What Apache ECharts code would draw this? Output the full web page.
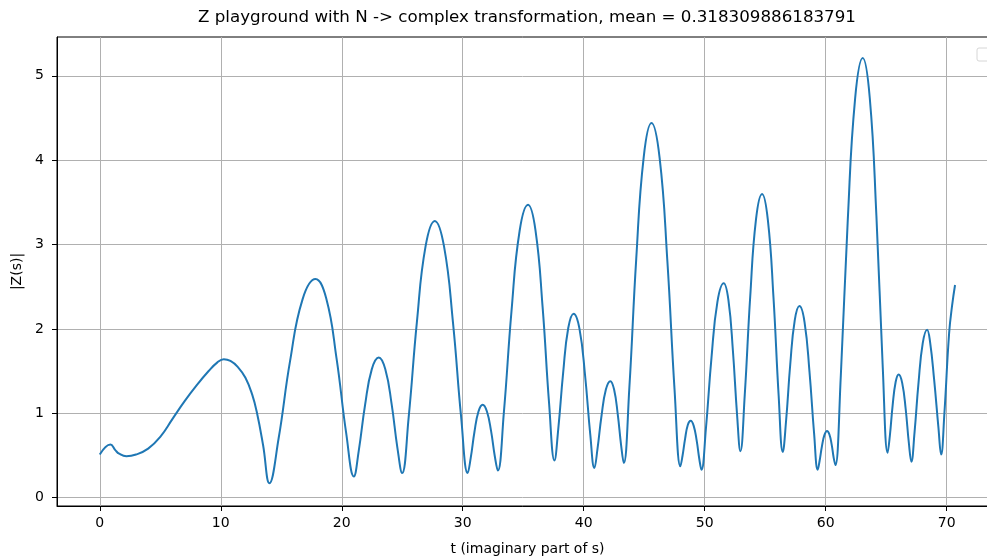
<!DOCTYPE html>
<html>
<head>
<meta charset="utf-8">
<script src="https://cdn.jsdelivr.net/npm/echarts@6/dist/echarts.min.js"></script>
<style>html,body{margin:0;padding:0;background:#fff}#c{width:987px;height:558px}</style>
</head>
<body>
<div id="c"></div>
<script>
const titleText = 'Z playground with N -> complex transformation, mean = 0.318309886183791';
const xLabel = 't (imaginary part of s)';
const yLabel = '|Z(s)|';
const xTicks = [0, 10, 20, 30, 40, 50, 60, 70];
const yTicks = [0, 1, 2, 3, 4, 5];
const tValues = [0, 0.88, 1.3, 1.6, 2.2, 3.0, 4.0, 5.0, 6.0, 7.0, 8.0, 9.0, 9.7, 10.25, 10.8, 11.4, 12.04, 12.6, 13.0, 13.5, 14.02,
14.78, 15.73, 16.76, 17.83, 18.72, 19.57, 20.37, 21.0,
21.41, 21.93, 22.48, 23.06, 23.60, 24.12, 24.60, 24.99,
25.53, 26.21, 26.93, 27.69, 28.45, 29.19, 29.87, 30.41,
30.66, 30.97, 31.30, 31.65, 32.0, 32.34, 32.65, 32.9,
33.4, 34.03, 34.7, 35.4, 36.01, 36.60, 37.14, 37.58,
37.90, 38.30, 38.72, 39.17, 39.65, 40.11, 40.54, 40.88,
41.14, 41.47, 41.83, 42.2, 42.51, 42.81, 43.09, 43.31,
43.77, 44.34, 44.96, 45.6, 46.27, 46.91, 47.51, 47.99,
48.16, 48.37, 48.60, 48.84, 49.09, 49.33, 49.55, 49.73,
50.10, 50.56, 51.05, 51.57, 51.96, 52.33, 52.67, 52.95,
53.31, 53.76, 54.24, 54.74, 55.22, 55.68, 56.11, 56.45,
56.73, 57.07, 57.44, 57.83, 58.25, 58.66, 59.04, 59.34,
59.49, 59.69, 59.89, 60.11, 60.30, 60.49, 60.66, 60.8,
61.25, 61.82, 62.43, 63.06, 63.64, 64.19, 64.71, 65.12,
65.30, 65.53, 65.78, 66.03, 66.32, 66.61, 66.87, 67.08,
67.34, 67.67, 68.02, 68.38, 68.63, 68.96, 69.31, 69.54,
69.81, 70.2, 70.45, 70.69];
const zValues = [0.51, 0.63, 0.56, 0.52, 0.49, 0.51, 0.58, 0.72, 0.93, 1.14, 1.33, 1.5, 1.6, 1.64, 1.62, 1.55, 1.42, 1.22, 1.0, 0.62, 0.17,
0.70, 1.62, 2.35, 2.59, 2.36, 1.65, 0.76, 0.25,
0.56, 1.10, 1.52, 1.66, 1.52, 1.11, 0.59, 0.29,
0.95, 2.08, 2.98, 3.28, 2.98, 2.08, 0.95, 0.29,
0.47, 0.78, 1.02, 1.10, 1.02, 0.79, 0.49, 0.32,
1.01, 2.21, 3.16, 3.47, 3.17, 2.26, 1.11, 0.44,
0.82, 1.48, 2.01, 2.18, 2.0, 1.45, 0.75, 0.35,
0.58, 0.97, 1.28, 1.38, 1.28, 0.99, 0.62, 0.41,
1.30, 2.83, 4.04, 4.44, 4.03, 2.81, 1.27, 0.37,
0.49, 0.69, 0.86, 0.91, 0.85, 0.68, 0.46, 0.33,
0.82, 1.66, 2.32, 2.54, 2.34, 1.74, 0.99, 0.55,
1.22, 2.38, 3.30, 3.60, 3.29, 2.38, 1.21, 0.54,
0.92, 1.58, 2.10, 2.27, 2.08, 1.49, 0.76, 0.33,
0.43, 0.61, 0.74, 0.79, 0.75, 0.63, 0.47, 0.385,
1.45, 3.28, 4.73, 5.21, 4.74, 3.34, 1.56, 0.53,
0.73, 1.09, 1.37, 1.46, 1.36, 1.05, 0.65, 0.425,
0.77, 1.36, 1.83, 1.99, 1.84, 1.40, 0.84, 0.51,
1.0, 1.95, 2.28, 2.52];

const FONT = 'DejaVu Sans';
const chart = echarts.init(document.getElementById('c'), null, {renderer: 'canvas'});
const pts = tValues.map((t, i) => [t, zValues[i]]);

chart.setOption({
  animation: false,
  backgroundColor: '#ffffff',
  grid: {left: 57, top: 37, right: -11, bottom: 52, containLabel: false, outerBoundsMode: 'none',
         show: true, borderColor: '#000', borderWidth: 1, backgroundColor: 'transparent'},
  xAxis: {
    type: 'value', min: -3.535, max: 74.24,
    name: xLabel, nameLocation: 'middle', nameGap: 36,
    nameTextStyle: {fontFamily: FONT, fontSize: 14, color: '#000'},
    axisLine: {show: true, onZero: false, lineStyle: {color: '#000', width: 1}},
    axisTick: {show: true, length: 5, customValues: xTicks, lineStyle: {color: '#000', width: 1}},
    axisLabel: {margin: 10, fontFamily: FONT, fontSize: 14, color: '#000', customValues: xTicks, formatter: (v) => String(v)},
    splitLine: {show: true, lineStyle: {color: '#b0b0b0', width: 1}}
  },
  yAxis: {
    type: 'value', min: -0.1, max: 5.46,
    name: yLabel, nameLocation: 'middle', nameGap: 33, nameRotate: 90,
    nameTextStyle: {fontFamily: FONT, fontSize: 14, color: '#000'},
    axisLine: {show: true, onZero: false, lineStyle: {color: '#000', width: 1}},
    axisTick: {show: true, length: 5, customValues: yTicks, lineStyle: {color: '#000', width: 1}},
    axisLabel: {margin: 13, fontFamily: FONT, fontSize: 14, color: '#000', customValues: yTicks, formatter: (v) => String(v)},
    splitLine: {show: true, lineStyle: {color: '#b0b0b0', width: 1}}
  },
  series: [{
    type: 'line', data: pts, showSymbol: false, smooth: 0.45,
    lineStyle: {color: '#1f77b4', width: 2}, itemStyle: {color: '#1f77b4'}
  }],
  graphic: [
    {type: 'rect', shape: {x: 977, y: 48, width: 30, height: 13, r: 2}, style: {fill: '#fff', stroke: '#d6d6d6', lineWidth: 1}, silent: true, z: 101},
    {type: 'text', x: 527, y: 18, style: {text: titleText, fontFamily: FONT, fontSize: 16.7, fill: '#000', textAlign: 'center', textVerticalAlign: 'middle'}, z: 102}
  ]
});
</script>
</body>
</html>
